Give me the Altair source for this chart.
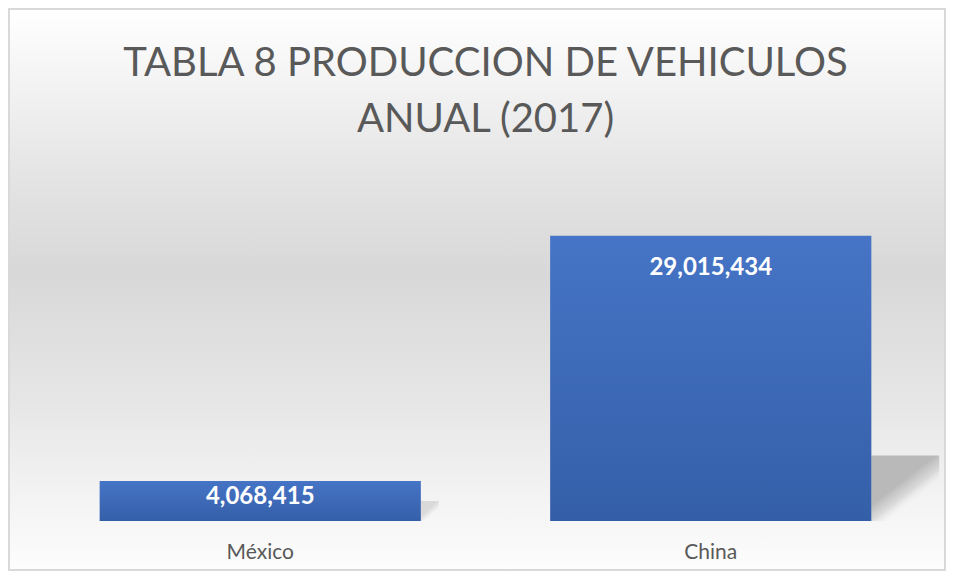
import altair as alt
import pandas as pd

paises = ["México", "China"]
produccion = [4068415, 29015434]
titulo = ["TABLA 8 PRODUCCION DE VEHICULOS", "ANUAL (2017)"]

df = pd.DataFrame({"pais": paises, "valor": produccion})
df["etiqueta"] = df["valor"].map(lambda v: f"{v:,}")

W, H = 901, 344
PL, PT, PR, PB = 27, 169, 10, 50
FONT = "Lato"
BAR_W = 321

bg = alt.Chart(alt.Data(values=[{}])).mark_rect(
    fill=alt.Gradient(
        gradient="linear",
        stops=[
            alt.GradientStop(color="#ffffff", offset=0),
            alt.GradientStop(color="#e4e4e4", offset=0.3),
            alt.GradientStop(color="#d8d8d8", offset=0.47),
            alt.GradientStop(color="#e6e6e6", offset=0.7),
            alt.GradientStop(color="#fdfdfd", offset=1),
        ],
        x1=0, x2=0, y1=0, y2=1,
    ),
    stroke="#d9d9d9",
    strokeWidth=2,
).encode(
    x=alt.value(-PL + 1),
    x2=alt.value(W + PR - 1),
    y=alt.value(-PT + 1),
    y2=alt.value(H + PB - 1),
)

xenc = alt.X(
    "pais:N",
    sort=paises,
    title=None,
    scale=alt.Scale(paddingInner=0.287, paddingOuter=0.1435),
    axis=alt.Axis(
        labelAngle=0,
        labelFontSize=21,
        labelColor="#595959",
        labelFont=FONT,
        labelPadding=20,
        ticks=False,
        domain=False,
        zindex=2,
    ),
)
yscale = alt.Scale(domain=[0, 35000000])
yenc = alt.Y("valor:Q", scale=yscale, axis=None)

shadow_grad = alt.Gradient(
    gradient="linear",
    stops=[
        alt.GradientStop(color="rgba(185,185,185,1)", offset=0),
        alt.GradientStop(color="rgba(200,200,200,0.6)", offset=0.5),
        alt.GradientStop(color="rgba(255,255,255,0)", offset=1),
    ],
    x1=0.38, y1=0.45, x2=0.62, y2=0.75,
)

def shadow(cond, w, op):
    return alt.Chart(df).transform_filter(cond).transform_calculate(
        sombra="datum.valor < 10000000 ? datum.valor * 0.5 : datum.valor * 0.23"
    ).mark_bar(
        fill=shadow_grad, width=w, xOffset=BAR_W / 2 + w / 2, opacity=op
    ).encode(x=xenc, y=alt.Y("sombra:Q", scale=yscale, axis=None))

sh_big = shadow(alt.datum.valor >= 10000000, 68, 1)
sh_small = shadow(alt.datum.valor < 10000000, 18, 0.45)

bars = alt.Chart(df).mark_bar(
    fill=alt.Gradient(
        gradient="linear",
        stops=[
            alt.GradientStop(color="#4674c6", offset=0),
            alt.GradientStop(color="#345fa8", offset=1),
        ],
        x1=0, x2=0, y1=0, y2=1,
    )
).encode(x=xenc, y=yenc)

lab_small = alt.Chart(df).transform_filter(alt.datum.valor < 10000000).mark_text(
    baseline="top", dy=4, color="white", fontSize=24, fontWeight="bold", font=FONT
).encode(x=xenc, y=yenc, text="etiqueta:N")

lab_big = alt.Chart(df).transform_filter(alt.datum.valor >= 10000000).mark_text(
    baseline="top", dy=20, color="white", fontSize=24, fontWeight="bold", font=FONT
).encode(x=xenc, y=yenc, text="etiqueta:N")

chart = alt.layer(bg, sh_big, sh_small, bars, lab_small, lab_big).properties(
    width=W,
    height=H,
    padding=0,
    title=alt.TitleParams(
        text=titulo,
        fontSize=40,
        font=FONT,
        fontWeight="normal",
        color="#595959",
        lineHeight=56,
        anchor="middle",
        frame="group",
        baseline="alphabetic",
        offset=0,
        dy=164,
    ),
    background="white",
).configure_view(stroke=None)

chart.save("out.html", embed_options={"renderer": "svg", "actions": False})
